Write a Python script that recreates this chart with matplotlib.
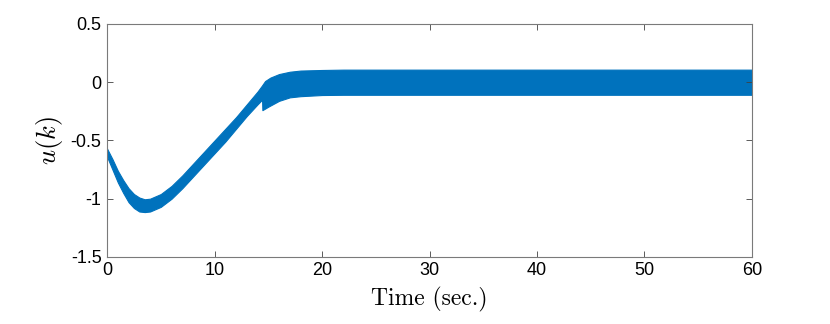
import numpy as np
import matplotlib
matplotlib.use('Agg')
import matplotlib.pyplot as plt

plt.rcParams['mathtext.fontset'] = 'cm'
plt.rcParams['font.family'] = ['Liberation Sans', 'DejaVu Sans']

# envelope of the fast oscillating control signal u(k)
t_upper = [0, 0.5, 1, 1.5, 2, 2.5, 3, 3.5, 4, 5, 6, 7, 8, 9, 10, 11, 12, 13,
           14, 14.4, 14.7, 15.2, 16, 17, 18, 20, 22, 60]
u_upper = [-0.57, -0.66, -0.76, -0.84, -0.91, -0.96, -0.99, -1.005, -1.0,
           -0.96, -0.89, -0.80, -0.70, -0.60, -0.50, -0.40, -0.30, -0.19,
           -0.08, -0.03, 0.01, 0.04, 0.07, 0.09, 0.10, 0.105, 0.108, 0.108]

t_lower = [0, 0.5, 1, 1.5, 2, 2.5, 3, 3.5, 4, 5, 6, 7, 8, 9, 10, 11, 12, 13,
           14, 14.42, 14.45, 15, 16, 17, 18, 20, 22, 60]
u_lower = [-0.64, -0.75, -0.86, -0.95, -1.03, -1.08, -1.11, -1.115, -1.11,
           -1.07, -1.00, -0.91, -0.81, -0.71, -0.61, -0.51, -0.40, -0.29,
           -0.19, -0.15, -0.24, -0.21, -0.16, -0.13, -0.12, -0.11, -0.108,
           -0.108]

xticks = [0, 10, 20, 30, 40, 50, 60]
yticks = [-1.5, -1, -0.5, 0, 0.5]
ytick_labels = ['-1.5', '-1', '-0.5', '0', '0.5']

blue = '#0072BD'

fig = plt.figure(figsize=(8.3, 3.24), dpi=100)
ax = fig.add_axes([0.129, 0.207, 0.777, 0.719])

# merge both envelopes onto one time grid so fill_between can use them
t_all = np.union1d(t_upper, t_lower)
up = np.interp(t_all, t_upper, u_upper)
lo = np.interp(t_all, t_lower, u_lower)
ax.fill_between(t_all, lo, up, color=blue, linewidth=0.8, edgecolor=blue)

ax.set_xlim(0, 60)
ax.set_ylim(-1.5, 0.5)
ax.set_xticks(xticks)
ax.set_xticklabels([str(v) for v in xticks])
ax.set_yticks(yticks)
ax.set_yticklabels(ytick_labels)
ax.tick_params(direction='in', length=4, width=0.6, color='#404040',
               labelsize=13, top=True, right=True, pad=4)
for s in ax.spines.values():
    s.set_color('#7a7a7a')
    s.set_linewidth(0.8)

ax.set_xlabel('Time (sec.)', fontsize=17, family='cmr10', labelpad=5)
ax.set_ylabel(r'$u(k)$', fontsize=19, labelpad=4)

fig.savefig('out.png', dpi=100)
